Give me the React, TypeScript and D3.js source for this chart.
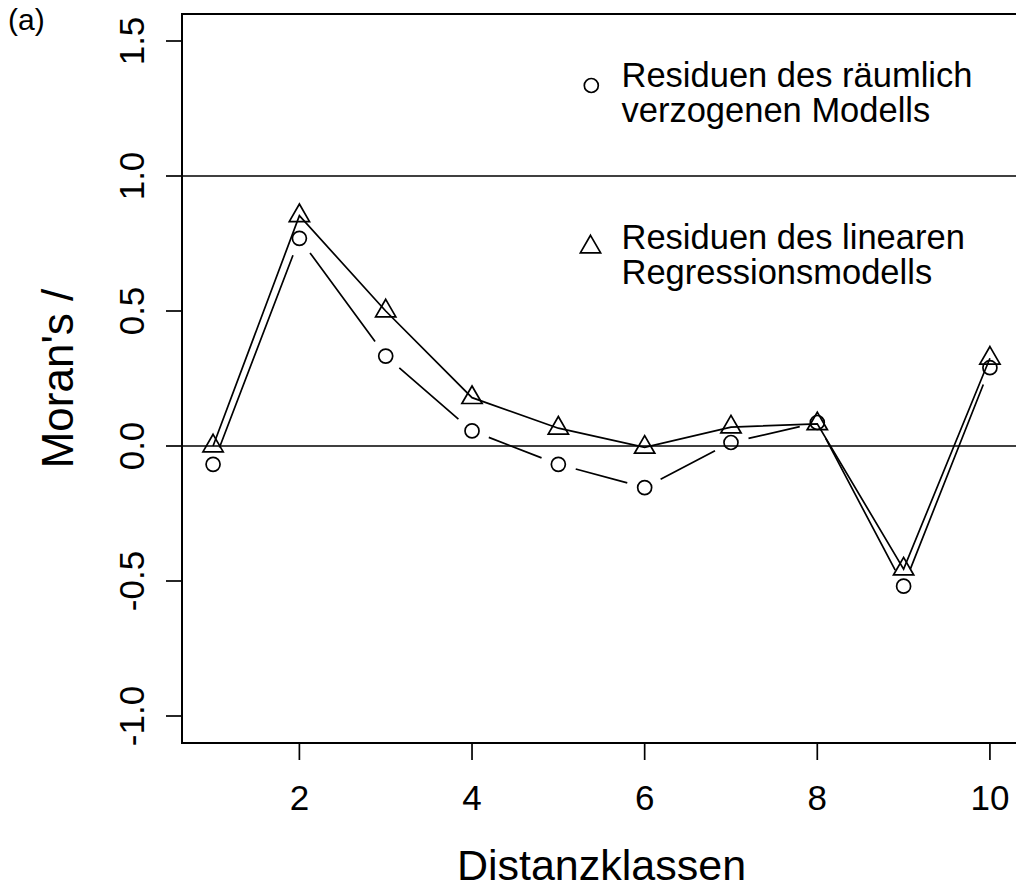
import React from "react";
import * as d3 from "d3";

// Distance classes and Moran's I of the residuals per class
const distanceClasses = [1, 2, 3, 4, 5, 6, 7, 8, 9, 10];
const lagModelResiduals = [-0.068, 0.769, 0.333, 0.056, -0.068, -0.154, 0.013, 0.087, -0.519, 0.29];
const linearModelResiduals = [0.0, 0.853, 0.5, 0.179, 0.066, -0.005, 0.07, 0.082, -0.456, 0.325];

const xTicks = [2, 4, 6, 8, 10];
const yTicks = [-1.0, -0.5, 0.0, 0.5, 1.0, 1.5];
const referenceLines = [0, 1];

const legendLag = ["Residuen des räumlich", "verzogenen Modells"];
const legendLinear = ["Residuen des linearen", "Regressionsmodells"];

const W = 1016;
const H = 888;
const FONT = "'Liberation Sans', Arial, Helvetica, sans-serif";

const plot = { left: 182, right: 1021, top: 14, bottom: 743 };

const x = d3.scaleLinear().domain([0.64, 10.36]).range([plot.left, plot.right]);
const y = d3.scaleLinear().domain([-1.1, 1.6]).range([plot.bottom, plot.top]);

const LW = 1.7;
const CIRCLE_R = 7;
const TRI_R = 11.7;
const GAP = 18;

function trianglePath(cx: number, cy: number, r: number) {
  const xc = r * Math.sqrt(3) / 2;
  const yc = r / 2;
  return `M${cx},${cy - r}L${cx + xc},${cy + yc}L${cx - xc},${cy + yc}Z`;
}

function gappedSegments(pts: [number, number][]) {
  const segs: string[] = [];
  for (let i = 0; i < pts.length - 1; i++) {
    const [x0, y0] = pts[i];
    const [x1, y1] = pts[i + 1];
    const dx = x1 - x0;
    const dy = y1 - y0;
    const len = Math.hypot(dx, dy);
    if (len <= 2 * GAP) continue;
    const ux = dx / len;
    const uy = dy / len;
    segs.push(
      `M${x0 + ux * GAP},${y0 + uy * GAP}L${x1 - ux * GAP},${y1 - uy * GAP}`
    );
  }
  return segs.join("");
}

export default function App() {
  const lagPts: [number, number][] = distanceClasses.map((d, i) => [x(d), y(lagModelResiduals[i])]);
  const linPts: [number, number][] = distanceClasses.map((d, i) => [x(d), y(linearModelResiduals[i])]);
  const linLine = d3.line<[number, number]>()(linPts) || "";

  return (
    <svg
      width={W}
      height={H}
      style={{ position: "absolute", left: 0, top: 0, background: "#fff" }}
      fontFamily={FONT}
    >
      <rect x={0} y={0} width={W} height={H} fill="#fff" />

      {/* panel tag */}
      <text x={8} y={30} fontSize={30} fill="#000">(a)</text>

      {/* plot frame */}
      <rect
        x={plot.left}
        y={plot.top}
        width={plot.right - plot.left}
        height={plot.bottom - plot.top}
        fill="none"
        stroke="#000"
        strokeWidth={2}
      />

      {/* reference lines */}
      {referenceLines.map((v) => (
        <line key={v} x1={plot.left} x2={plot.right} y1={y(v)} y2={y(v)} stroke="#000" strokeWidth={LW} />
      ))}

      {/* y axis */}
      {yTicks.map((t) => (
        <g key={t}>
          <line x1={plot.left - 16} x2={plot.left} y1={y(t)} y2={y(t)} stroke="#000" strokeWidth={LW} />
          <text
            transform={`translate(143.5,${y(t)}) rotate(-90)`}
            textAnchor="middle"
            fontSize={35}
            fill="#000"
          >
            {t.toFixed(1)}
          </text>
        </g>
      ))}

      {/* x axis */}
      {xTicks.map((t) => (
        <g key={t}>
          <line x1={x(t)} x2={x(t)} y1={plot.bottom} y2={plot.bottom + 17} stroke="#000" strokeWidth={LW} />
          <text x={x(t)} y={810} textAnchor="middle" fontSize={35} fill="#000">
            {t}
          </text>
        </g>
      ))}

      {/* axis titles */}
      <text x={(plot.left + plot.right) / 2} y={879.5} textAnchor="middle" fontSize={43} fill="#000">
        Distanzklassen
      </text>
      <text
        transform={`translate(73,${(plot.top + plot.bottom) / 2}) rotate(-90)`}
        textAnchor="middle"
        fontSize={44}
        fill="#000"
      >
        Moran's /
      </text>

      {/* linear regression residuals: line through triangles */}
      <path d={linLine} fill="none" stroke="#000" strokeWidth={LW} />
      {linPts.map(([px, py], i) => (
        <path key={i} d={trianglePath(px, py, TRI_R)} fill="none" stroke="#000" strokeWidth={LW} />
      ))}

      {/* spatial lag residuals: broken line with circles */}
      <path d={gappedSegments(lagPts)} fill="none" stroke="#000" strokeWidth={LW} />
      {lagPts.map(([px, py], i) => (
        <circle key={i} cx={px} cy={py} r={CIRCLE_R} fill="none" stroke="#000" strokeWidth={LW} />
      ))}

      {/* legend */}
      <circle cx={591.3} cy={85.5} r={CIRCLE_R} fill="none" stroke="#000" strokeWidth={LW} />
      <text x={621.5} y={86.7} fontSize={34.5} fill="#000">
        {legendLag.map((s, i) => (
          <tspan key={i} x={621.5} dy={i === 0 ? 0 : 35}>{s}</tspan>
        ))}
      </text>
      <path d={trianglePath(590.5, 247, TRI_R)} fill="none" stroke="#000" strokeWidth={LW} />
      <text x={621.5} y={249.3} fontSize={34.5} fill="#000">
        {legendLinear.map((s, i) => (
          <tspan key={i} x={621.5} dy={i === 0 ? 0 : 34.5}>{s}</tspan>
        ))}
      </text>
    </svg>
  );
}
